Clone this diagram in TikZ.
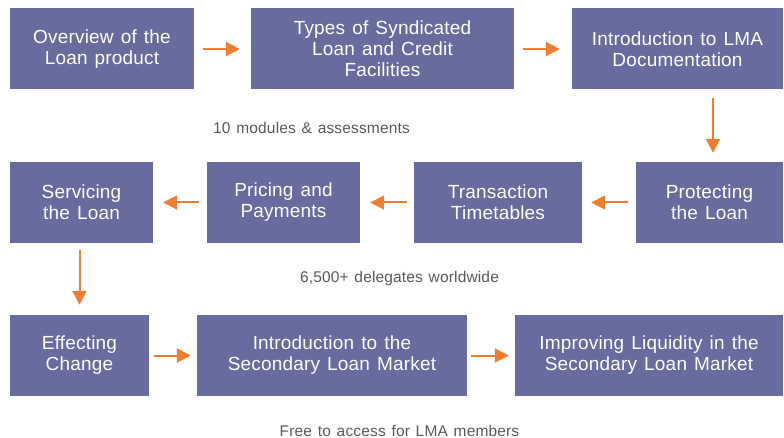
\documentclass[tikz,border=0pt]{standalone}
\usepackage{fontspec}
\setmainfont{Liberation Sans}[WordSpace=1.3,LetterSpace=1]
\usetikzlibrary{arrows.meta}
\definecolor{boxblue}{RGB}{103,107,157}
\definecolor{arrorange}{RGB}{237,125,49}
\definecolor{capgray}{RGB}{89,89,89}
\tikzset{
	module/.style={rectangle, fill=boxblue, text=white, align=center, inner sep=0pt, minimum height=81pt, font=\fontsize{19}{21}\selectfont},
	flow/.style={draw=arrorange, line width=2pt, -{Triangle[length=14pt,width=14pt]}},
	caption/.style={text=capgray, inner sep=0pt, font=\fontsize{15.5}{18}\selectfont}
}
\begin{document}
\begin{tikzpicture}[x=1pt,y=-1pt]
				\useasboundingbox (0,0) rectangle (784,438);
				\node[module, minimum width=184pt] (overview) at (102,49) {Overview of the\\Loan product};
				\node[module, minimum width=263pt] (types) at (382.5,49) {Types of Syndicated\\Loan and Credit\\Facilities};
				\node[module, minimum width=211pt] (intro) at (677.5,49) {Introduction to LMA\\Documentation};
				\node[module, minimum width=147pt] (protect) at (709.5,202.5) {Protecting\\the Loan};
				\node[module, minimum width=168pt] (timetab) at (498,202.5) {Transaction\\Timetables};
				\node[module, minimum width=153pt] (pricing) at (283.5,202.5) {Pricing and\\Payments};
				\node[module, minimum width=143pt] (servicing) at (81.5,202.5) {Servicing\\the Loan};
				\node[module, minimum width=139pt] (effect) at (79.5,355.5) {Effecting\\Change};
				\node[module, minimum width=270pt] (secondary) at (332,355.5) {Introduction to the\\Secondary Loan Market};
				\node[module, minimum width=268pt] (liquidity) at (649,355.5) {Improving Liquidity in the\\Secondary Loan Market};
				\draw[flow, shorten <=9pt, shorten >=11pt] (overview) -- (types);
				\draw[flow, shorten <=9pt, shorten >=12pt] (types) -- (intro);
				\draw[flow, shorten <=8pt, shorten >=9pt] ([xshift=3.5pt]protect.north |- intro.south) -- ([xshift=3.5pt]protect.north);
				\draw[flow, shorten <=8pt, shorten >=9pt] (protect) -- (timetab);
				\draw[flow, shorten <=7pt, shorten >=10pt] (timetab) -- (pricing);
				\draw[flow, shorten <=8pt, shorten >=10pt] (pricing) -- (servicing);
				\draw[flow, shorten <=7pt, shorten >=10pt] (effect.north |- servicing.south) -- (effect.north);
				\draw[flow, shorten <=5pt, shorten >=6pt] (effect) -- (secondary);
				\draw[flow, shorten <=4pt, shorten >=6pt] (secondary) -- (liquidity);
				\node[caption] (modules) at (311.5,128) {10 modules \& assessments};
				\node[caption] (delegates) at (399.5,278) {6,500+ delegates worldwide};
				\node[caption] (access) at (399.5,430.5) {Free to access for LMA members};
\end{tikzpicture}
\end{document}
